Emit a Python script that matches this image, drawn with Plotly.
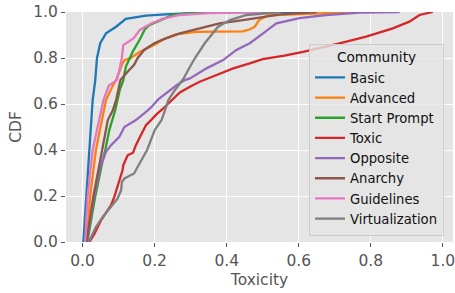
import plotly.graph_objects as go

# ---- data ----
communities = ["Basic", "Advanced", "Start Prompt", "Toxic", "Opposite", "Anarchy", "Guidelines", "Virtualization"]
colors = ["#1f77b4", "#ff7f0e", "#2ca02c", "#d62728", "#9467bd", "#8c564b", "#e377c2", "#7f7f7f"]

basic_tox = [0.002, 0.010, 0.019, 0.028, 0.035, 0.040, 0.049, 0.065, 0.093, 0.120, 0.176, 0.230, 0.350, 0.600]
basic_cdf = [0.0, 0.2, 0.4, 0.617, 0.70, 0.80, 0.864, 0.907, 0.936, 0.970, 0.984, 0.990, 0.998, 1.0]

advanced_tox = [0.012, 0.021, 0.037, 0.053, 0.065, 0.084, 0.093, 0.111, 0.117, 0.134, 0.159, 0.200, 0.229, 0.258, 0.316, 0.445, 0.465, 0.478, 0.490, 0.514, 0.600, 0.750]
advanced_cdf = [0.0, 0.2, 0.4, 0.53, 0.617, 0.68, 0.704, 0.777, 0.791, 0.800, 0.827, 0.858, 0.885, 0.903, 0.914, 0.916, 0.925, 0.936, 0.965, 0.985, 0.991, 1.0]

start_tox = [0.013, 0.035, 0.056, 0.063, 0.074, 0.090, 0.103, 0.113, 0.120, 0.130, 0.140, 0.158, 0.173, 0.185, 0.208, 0.228, 0.250, 0.300, 0.400]
start_cdf = [0.0, 0.196, 0.356, 0.40, 0.486, 0.57, 0.66, 0.704, 0.762, 0.800, 0.830, 0.878, 0.925, 0.943, 0.958, 0.972, 0.987, 0.995, 1.0]

toxic_tox = [0.019, 0.033, 0.051, 0.065, 0.079, 0.088, 0.097, 0.104, 0.111, 0.113, 0.120, 0.125, 0.140, 0.148, 0.162, 0.176, 0.190, 0.205, 0.220, 0.242, 0.270, 0.298, 0.325, 0.372, 0.418, 0.464, 0.500, 0.560, 0.612, 0.713, 0.787, 0.861, 0.907, 0.935, 0.972]
toxic_cdf = [0.0, 0.036, 0.094, 0.130, 0.160, 0.196, 0.240, 0.269, 0.312, 0.334, 0.356, 0.377, 0.388, 0.421, 0.465, 0.508, 0.530, 0.555, 0.575, 0.610, 0.650, 0.675, 0.697, 0.726, 0.755, 0.777, 0.795, 0.810, 0.827, 0.864, 0.893, 0.929, 0.958, 0.987, 1.0]

opposite_tox = [0.012, 0.030, 0.048, 0.060, 0.065, 0.079, 0.102, 0.116, 0.148, 0.176, 0.190, 0.210, 0.235, 0.261, 0.284, 0.298, 0.344, 0.390, 0.427, 0.464, 0.501, 0.519, 0.538, 0.602, 0.676, 0.769, 0.880]
opposite_cdf = [0.0, 0.18, 0.32, 0.37, 0.392, 0.421, 0.457, 0.500, 0.530, 0.566, 0.585, 0.620, 0.650, 0.682, 0.704, 0.711, 0.755, 0.791, 0.835, 0.864, 0.907, 0.929, 0.951, 0.973, 0.987, 0.997, 1.0]

anarchy_tox = [0.011, 0.030, 0.049, 0.059, 0.070, 0.084, 0.093, 0.099, 0.105, 0.125, 0.143, 0.153, 0.171, 0.199, 0.222, 0.270, 0.325, 0.380, 0.445, 0.510, 0.550, 0.650]
anarchy_cdf = [0.0, 0.2, 0.356, 0.443, 0.53, 0.573, 0.617, 0.66, 0.704, 0.740, 0.770, 0.800, 0.835, 0.864, 0.880, 0.907, 0.929, 0.951, 0.965, 0.980, 0.990, 1.0]

guidelines_tox = [0.007, 0.014, 0.028, 0.047, 0.058, 0.073, 0.095, 0.102, 0.109, 0.113, 0.141, 0.159, 0.190, 0.222, 0.270, 0.350, 0.500]
guidelines_cdf = [0.0, 0.2, 0.4, 0.53, 0.617, 0.68, 0.704, 0.747, 0.80, 0.856, 0.885, 0.922, 0.950, 0.970, 0.987, 0.995, 1.0]

virtual_tox = [0.017, 0.037, 0.056, 0.079, 0.097, 0.107, 0.109, 0.116, 0.143, 0.153, 0.167, 0.179, 0.200, 0.219, 0.229, 0.238, 0.256, 0.280, 0.298, 0.312, 0.339, 0.353, 0.376, 0.409, 0.455, 0.550]
virtual_cdf = [0.0, 0.065, 0.109, 0.152, 0.189, 0.225, 0.261, 0.276, 0.298, 0.327, 0.370, 0.400, 0.486, 0.530, 0.573, 0.617, 0.660, 0.710, 0.762, 0.800, 0.864, 0.893, 0.936, 0.965, 0.987, 1.0]

series_tox = [basic_tox, advanced_tox, start_tox, toxic_tox, opposite_tox, anarchy_tox, guidelines_tox, virtual_tox]
series_cdf = [basic_cdf, advanced_cdf, start_cdf, toxic_cdf, opposite_cdf, anarchy_cdf, guidelines_cdf, virtual_cdf]

tick_vals = [0.0, 0.2, 0.4, 0.6, 0.8, 1.0]
tick_text = ["0.0", "0.2", "0.4", "0.6", "0.8", "1.0"]

fig = go.Figure()
for name, col, xs, ys in zip(communities, colors, series_tox, series_cdf):
    fig.add_trace(go.Scatter(x=xs, y=ys, mode="lines", name=name,
                             line=dict(color=col, width=2.3)))

axis_common = dict(
    showgrid=True, gridcolor="white", gridwidth=1.2,
    zeroline=False, showline=False, automargin=False,
    ticks="outside", ticklen=4, tickwidth=1, tickcolor="#555555",
    tickfont=dict(family="DejaVu Sans", size=15.5, color="#555555"),
    tickvals=tick_vals, ticktext=tick_text,
    ticklabeloverflow="allow",
)

fig.update_xaxes(range=[-0.046, 1.028], title=dict(text="Toxicity", font=dict(family="DejaVu Sans", size=15.5, color="#555555"), standoff=5), **axis_common)
fig.update_yaxes(range=[0, 1], title=dict(text="CDF", font=dict(family="DejaVu Sans", size=15.5, color="#555555"), standoff=7), **axis_common)

fig.update_layout(
    width=455, height=293,
    margin=dict(l=66, r=2, t=12, b=51),
    plot_bgcolor="#E5E5E5", paper_bgcolor="white",
    font=dict(family="DejaVu Sans", color="#222222"),
    legend=dict(
        x=(309 - 66) / 387, y=0.028, xanchor="left", yanchor="bottom",
        bgcolor="rgba(229,229,229,0.8)", bordercolor="#cccccc", borderwidth=1,
        font=dict(family="DejaVu Sans", size=13.2, color="#111111"),
        title=dict(text="Community", side="top center", font=dict(family="DejaVu Sans", size=13.7, color="#111111")),
        tracegroupgap=0,
    ),
    showlegend=True,
)

fig.write_html("out.html", config={"displayModeBar": False},
               post_script="document.body.style.margin='0';")
